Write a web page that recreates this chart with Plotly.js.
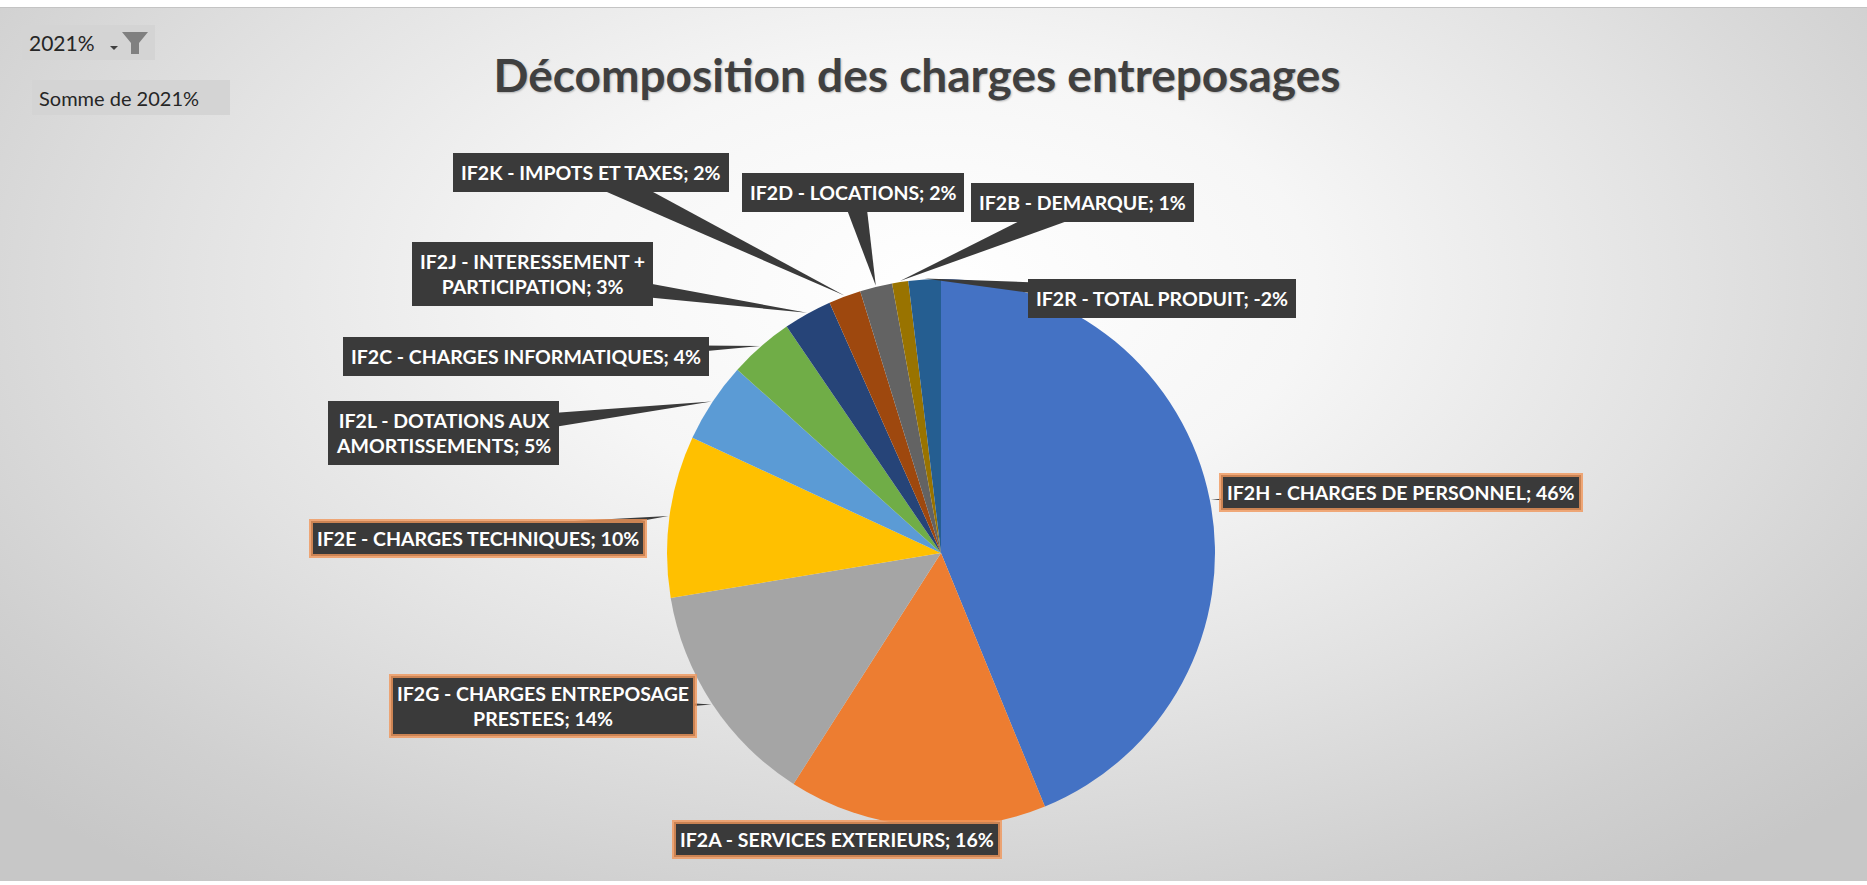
<!DOCTYPE html>
<html>
<head>
<meta charset="utf-8">
<script src="https://cdn.plot.ly/plotly-3.0.1.min.js"></script>
<style>
  html, body { margin: 0; padding: 0; background: #ffffff; }
  #wrap { position: relative; width: 1867px; height: 885px; overflow: hidden; background: #ffffff; }
  #bg { position: absolute; left: 0; top: 7px; width: 1867px; height: 874px;
        background: radial-gradient(ellipse 68% 85% at 50% 32%, #ffffff 0%, #f6f6f6 30%, #e2e2e2 60%, #d0d0d0 85%, #c7c7c7 100%);
        border-top: 1px solid #c4c4c4; box-sizing: border-box; }
  #chart { position: absolute; left: 0; top: 0; width: 1867px; height: 885px; }
</style>
</head>
<body>
<div id="wrap"><div id="bg"></div><div id="chart"></div></div>
<script>
// ---------------- data ----------------
const categories = [
  'IF2H - CHARGES DE PERSONNEL',
  'IF2A - SERVICES EXTERIEURS',
  'IF2G - CHARGES ENTREPOSAGE PRESTEES',
  'IF2E - CHARGES TECHNIQUES',
  'IF2L - DOTATIONS AUX AMORTISSEMENTS',
  'IF2C - CHARGES INFORMATIQUES',
  'IF2J - INTERESSEMENT + PARTICIPATION',
  'IF2K - IMPOTS ET TAXES',
  'IF2D - LOCATIONS',
  'IF2B - DEMARQUE',
  'IF2R - TOTAL PRODUIT'
];
const values2021 = [46, 16, 14, 10, 5, 4, 3, 2, 2, 1, -2];
const labelFirstLine = ['', '', 'IF2G - CHARGES ENTREPOSAGE', '', 'IF2L - DOTATIONS AUX', '', 'IF2J - INTERESSEMENT +', '', '', '', ''];
const sliceColors = ['#4472C4', '#ED7D31', '#A5A5A5', '#FFC000', '#5B9BD5', '#70AD47', '#264478', '#9E480E', '#636363', '#997300', '#255E91'];
const highlighted = [true, true, true, true, false, false, false, false, false, false, false];

const titleText = 'Décomposition des charges entreposages';
const filterText = '2021%';
const fieldText = 'Somme de 2021%';

// ---------------- layout constants ----------------
const W = 1867, H = 885;
const cx = 941, cy = 553, R = 274;
const labelPos = [
  [1401, 493], [837, 839], [543, 706], [478, 538], [443, 433], [526, 356],
  [532, 274], [591, 172], [853, 192], [1082, 203], [1162, 299]
];
const px = x => x / W;
const py = y => 1 - y / H;

// tips of the callouts: middle of each slice on the rim
const total = values2021.reduce((s, v) => s + Math.abs(v), 0);
let cum = 0;
const tips = values2021.map(v => {
  const a = Math.abs(v);
  const mid = (cum + a / 2) / total * 2 * Math.PI;
  cum += a;
  return [cx + (R + 1) * Math.sin(mid), cy - (R + 1) * Math.cos(mid)];
});

const labelTexts = categories.map((c, i) => {
  const full = c + '; ' + values2021[i] + '%';
  const f = labelFirstLine[i];
  return f ? f + '<br>' + full.slice(f.length).trim() : full;
});

const trace = {
  type: 'pie',
  labels: categories,
  values: values2021.map(v => Math.abs(v)),
  customdata: values2021,
  sort: false,
  direction: 'clockwise',
  rotation: 0,
  textinfo: 'none',
  hovertemplate: '%{label}; %{customdata}%<extra></extra>',
  marker: { colors: sliceColors, line: { width: 0 } },
  domain: { x: [px(cx - R), px(cx + R)], y: [py(cy + R), py(cy - R)] },
  showlegend: false
};

const shapes = [];
const annotations = [];

// callout wedges
tips.forEach((t, i) => {
  const [bx, by] = labelPos[i];
  const dx = bx - t[0], dy = by - t[1];
  const len = Math.hypot(dx, dy) || 1;
  const nx = -dy / len, ny = dx / len;
  const hw = 12;
  const p1 = [bx + nx * hw, by + ny * hw], p2 = [bx - nx * hw, by - ny * hw];
  shapes.push({
    type: 'path', xref: 'paper', yref: 'paper', layer: 'above',
    path: `M ${px(t[0])} ${py(t[1])} L ${px(p1[0])} ${py(p1[1])} L ${px(p2[0])} ${py(p2[1])} Z`,
    fillcolor: '#3a3a3a', line: { width: 0 }
  });
});

// label boxes
labelTexts.forEach((txt, i) => {
  const [bx, by] = labelPos[i];
  annotations.push({
    xref: 'paper', yref: 'paper', x: px(bx), y: py(by),
    xanchor: 'center', yanchor: 'middle', showarrow: false,
    text: txt, align: 'center',
    font: { family: 'Lato, "Open Sans", sans-serif', size: 19.5, color: '#ffffff', weight: 'bold' },
    bgcolor: '#3a3a3a',
    bordercolor: highlighted[i] ? 'rgba(240,150,90,0.8)' : 'rgba(0,0,0,0)',
    borderwidth: highlighted[i] ? 4 : 0,
    borderpad: highlighted[i] ? 4 : 8
  });
});

// pivot buttons
shapes.push({ type: 'rect', xref: 'paper', yref: 'paper', x0: px(22), x1: px(155), y0: py(60), y1: py(25),
  fillcolor: '#d4d4d4', line: { width: 0 }, layer: 'below' });
shapes.push({ type: 'rect', xref: 'paper', yref: 'paper', x0: px(32), x1: px(230), y0: py(115), y1: py(80),
  fillcolor: '#d4d4d4', line: { width: 0 }, layer: 'below' });
// dropdown arrow
shapes.push({ type: 'path', xref: 'paper', yref: 'paper',
  path: `M ${px(110)} ${py(46)} L ${px(118)} ${py(46)} L ${px(114)} ${py(50)} Z`,
  fillcolor: '#404040', line: { width: 0 } });
// funnel
shapes.push({ type: 'path', xref: 'paper', yref: 'paper',
  path: `M ${px(122)} ${py(32)} L ${px(148)} ${py(32)} L ${px(139)} ${py(43)} L ${px(139)} ${py(54)} L ${px(131)} ${py(54)} L ${px(131)} ${py(43)} Z`,
  fillcolor: '#808080', line: { width: 0 } });

annotations.push({ xref: 'paper', yref: 'paper', x: px(27), y: py(43), xanchor: 'left', yanchor: 'middle',
  showarrow: false, text: filterText, font: { family: 'Lato, sans-serif', size: 21, color: '#262626' } });
annotations.push({ xref: 'paper', yref: 'paper', x: px(37), y: py(98), xanchor: 'left', yanchor: 'middle',
  showarrow: false, text: fieldText, font: { family: 'Lato, sans-serif', size: 20, color: '#262626' } });

const layout = {
  width: W, height: H,
  margin: { l: 0, r: 0, t: 0, b: 0, pad: 0 },
  paper_bgcolor: 'rgba(0,0,0,0)',
  plot_bgcolor: 'rgba(0,0,0,0)',
  title: {
    text: titleText, x: px(917), xanchor: 'center', y: py(76), yanchor: 'middle', xref: 'paper', yref: 'paper',
    font: { family: 'Lato, "Open Sans", sans-serif', size: 46, color: '#404040', weight: 'bold',
            shadow: '1px 1px 2px rgba(0,0,0,0.25)' }
  },
  shapes: shapes,
  annotations: annotations,
  showlegend: false
};

Plotly.newPlot('chart', [trace], layout, { displayModeBar: false });
</script>
</body>
</html>
